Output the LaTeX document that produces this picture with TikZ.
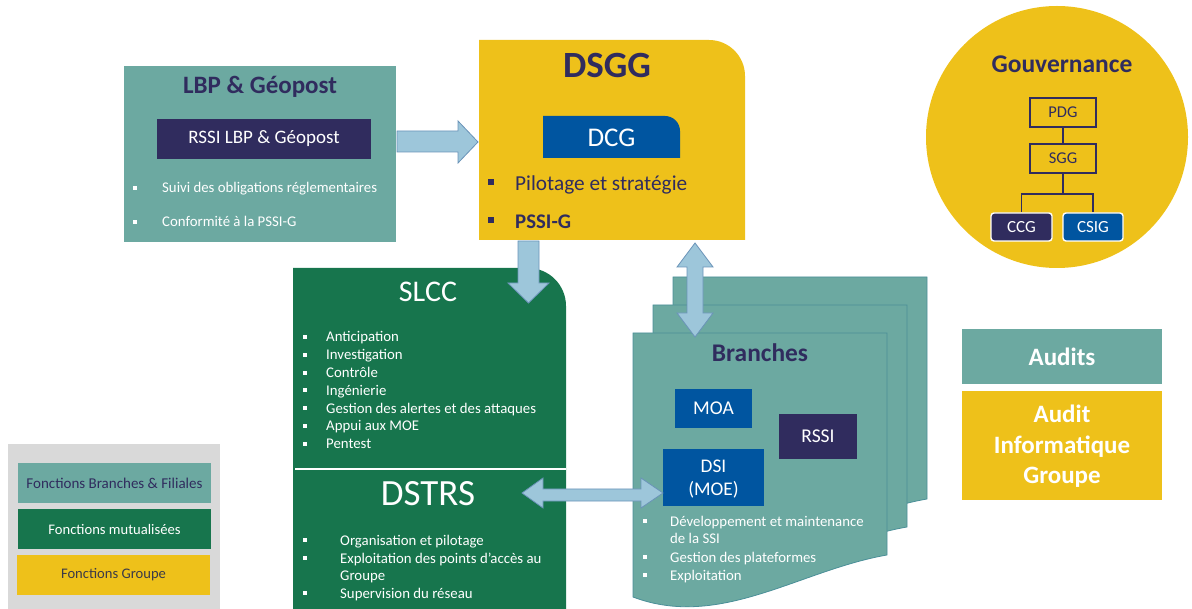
\documentclass[tikz,border=0pt]{standalone}
\usepackage{fontspec}
\setmainfont{Carlito}
\usetikzlibrary{calc}
\definecolor{teal1}{HTML}{6CA9A1}
\definecolor{navy}{HTML}{302C5E}
\definecolor{blue1}{HTML}{0055A0}
\definecolor{green1}{HTML}{17754D}
\definecolor{yel}{HTML}{EEC11A}
\definecolor{arrowfill}{HTML}{9DC6DA}
\definecolor{arrowline}{HTML}{6A93B8}
\definecolor{legendgray}{HTML}{D9D9D9}
\definecolor{pageline}{HTML}{4A8F98}
\definecolor{darktext}{HTML}{3B3A48}
\newcommand\fs[2]{\fontsize{#1}{#2}\selectfont}
\tikzset{
  bc/.style={inner sep=0pt, anchor=base},
  bl/.style={inner sep=0pt, anchor=base west},
  small/.style={font=\fs{14.8}{17}},
  blk/.style={draw=arrowline, fill=arrowfill, line width=0.8pt, line join=miter},
  pagebox/.style={fill=teal1, draw=pageline, line width=0.8pt},
  orgbox/.style={draw=navy, line width=1.4pt, fill=yel, minimum width=66pt, minimum height=29pt, text=navy, font=\fs{16.5}{19}},
  orgdark/.style={draw=white, line width=1.4pt, rounded corners=3pt, minimum height=28pt, text=white, font=\fs{17}{19}},
  orgline/.style={draw=navy, line width=1.4pt},
}
\begin{document}
\begin{tikzpicture}[x=1pt,y=-1pt, every node/.style={inner sep=0pt}]
\useasboundingbox (0,0) rectangle (1192,609);

% ---------- LBP & Geopost ----------
\node[fill=teal1, minimum width=272pt, minimum height=176pt] (lbp) at (260,154) {};
\node[bc, text=navy, font=\fs{25}{30}\bfseries] (lbpT) at (260,94) {LBP \& Géopost};
\node[fill=navy, minimum width=214pt, minimum height=40pt, text=white, font=\fs{19}{22}] (rssiL) at (264,139) {RSSI LBP \& Géopost};
\fill[white] (133,186) rectangle ++(4,4);
\node[bl, text=white, small] (lbpA) at (162,193) {Suivi des obligations réglementaires};
\fill[white] (133,220) rectangle ++(4,4);
\node[bl, text=white, small] (lbpB) at (162,227) {Conformité à la PSSI-G};

% ---------- DSGG ----------
\fill[yel] (479,240) -- (479,40) [rounded corners=36pt] -- (745,40) [sharp corners] -- (745,240) -- cycle;
\node[bc, text=navy, font=\fs{37}{40}\bfseries] (dsggT) at (607,78) {DSGG};
\fill[blue1] (543,158) -- (543,116) [rounded corners=15pt] -- (680,116) [sharp corners] -- (680,158) -- cycle;
\node[bc, text=white, font=\fs{27}{30}] (dcg) at (611.5,147) {DCG};
\fill[navy] (488,179) rectangle ++(6,6);
\node[bl, text=navy, font=\fs{21.3}{24}] (dsggA) at (515,191) {Pilotage et stratégie};
\fill[navy] (488,217) rectangle ++(6,6);
\node[bl, text=navy, font=\fs{20.8}{24}\bfseries] (dsggB) at (515,229) {PSSI-G};

% ---------- Gouvernance ----------
\node[circle, fill=yel, minimum size=262pt] (gov) at (1057,137) {};
\node[bc, text=navy, font=\fs{25.5}{28}\bfseries] (govT) at (1062,73) {Gouvernance};
\node[orgbox] (pdg) at (1063,112.5) {PDG};
\node[orgbox] (sgg) at (1063,158.5) {SGG};
\node[orgdark, fill=navy, minimum width=61pt] (ccg) at (1021.5,227) {CCG};
\node[orgdark, fill=blue1, minimum width=60pt] (csig) at (1093,227) {CSIG};
\coordinate (fork) at (1063,194);
\draw[orgline] (pdg.south) -- (sgg.north);
\draw[orgline] (sgg.south) -- (fork);
\draw[orgline] (fork) -| (ccg.north);
\draw[orgline] (fork) -| (csig.north);

% ---------- SLCC / DSTRS ----------
\fill[green1] (293,609) -- (293,268) [rounded corners=38pt] -- (566,268) [sharp corners] -- (566,609) -- cycle;
\node[bc, text=white, font=\fs{30}{32}] (slccT) at (428,302) {SLCC};
\foreach \t [count=\i] in {Anticipation, Investigation, Contrôle, Ingénierie, Gestion des alertes et des attaques, Appui aux MOE, Pentest}{
  \pgfmathsetmacro\yy{342+17.8*(\i-1)}
  \fill[white] (303,\yy-7) rectangle ++(4,4);
  \node[bl, text=white, small] (slcc\i) at (326,\yy) {\t};
}
\draw[white, line width=2pt] (295,469) -- (566,469);
\node[bc, text=white, font=\fs{37}{40}] (dstrsT) at (428,505) {DSTRS};
\fill[white] (303,538) rectangle ++(4,4);
\node[bl, text=white, small] (dstrsA) at (340,545) {Organisation et pilotage};
\fill[white] (303,556) rectangle ++(4,4);
\node[bl, text=white, small] (dstrsB) at (340,563) {Exploitation des points d’accès au};
\node[bl, text=white, small] (dstrsC) at (340,580) {Groupe};
\fill[white] (303,591) rectangle ++(4,4);
\node[bl, text=white, small] (dstrsD) at (340,598) {Supervision du réseau};

% ---------- Branches (stacked pages) ----------
\path[pagebox] (673,541) -- (673,277) -- (927,277) -- (927,499) .. controls (840,514) and (760,574) .. (673,541) -- cycle;
\path[pagebox] (653,569) -- (653,305) -- (907,305) -- (907,527) .. controls (820,542) and (740,602) .. (653,569) -- cycle;
\path[pagebox] (633,597) -- (633,333) -- (887,333) -- (887,555) .. controls (800,570) and (720,630) .. (633,597) -- cycle;
\node[bc, text=navy, font=\fs{25.4}{28}\bfseries] (branchT) at (760,362) {Branches};
\node[fill=blue1, minimum width=77pt, minimum height=39pt, text=white, font=\fs{19.5}{22}] (moa) at (713.5,408.5) {MOA};
\node[fill=navy, minimum width=78pt, minimum height=45pt, text=white, font=\fs{19.5}{22}] (rssiB) at (818,436.5) {RSSI};
\node[fill=blue1, minimum width=101pt, minimum height=57pt] (dsi) at (713.5,477.5) {};
\node[bc, text=white, font=\fs{19.3}{22}] (dsiA) at (713.5,473) {DSI};
\node[bc, text=white, font=\fs{19.3}{22}] (dsiB) at (713.5,496) {(MOE)};
\fill[white] (643,519) rectangle ++(4,4);
\node[bl, text=white, small] (brA) at (670,526) {Développement et maintenance};
\node[bl, text=white, small] (brB) at (670,543) {de la SSI};
\fill[white] (643,555) rectangle ++(4,4);
\node[bl, text=white, small] (brC) at (670,562) {Gestion des plateformes};
\fill[white] (643,573) rectangle ++(4,4);
\node[bl, text=white, small] (brD) at (670,580) {Exploitation};

% ---------- Block arrows ----------
\draw[blk] (397,131) -- (458,131) -- (458,121) -- (478,142) -- (458,163) -- (458,152) -- (397,152) -- cycle;
\draw[blk] (518,241) -- (539,241) -- (539,283) -- (549,283) -- (528.5,303) -- (508,283) -- (518,283) -- cycle;
\draw[blk] (695,243) -- (713,267) -- (703,267) -- (703,313) -- (713,313) -- (695,337) -- (677,313) -- (687,313) -- (687,267) -- (677,267) -- cycle;
\draw[blk] (522,493) -- (543,478) -- (543,489) -- (641,489) -- (641,478) -- (663,493) -- (641,508) -- (641,501) -- (543,501) -- (543,508) -- cycle;

% ---------- Audits ----------
\node[fill=teal1, minimum width=200pt, minimum height=55pt] (audits) at (1062,356.5) {};
\node[bc, text=white, font=\fs{25}{30}\bfseries] (auditsT) at (1062,366) {Audits};
\node[fill=yel, minimum width=200pt, minimum height=109pt] (aigBox) at (1062,445.5) {};
\node[bc, text=white, font=\fs{25}{30}\bfseries] (aigA) at (1062,423) {Audit};
\node[bc, text=white, font=\fs{25}{30}\bfseries] (aigB) at (1062,454) {Informatique};
\node[bc, text=white, font=\fs{25}{30}\bfseries] (aigC) at (1062,484) {Groupe};

% ---------- Legend ----------
\fill[legendgray] (8,444) rectangle (220,609);
\node[fill=teal1, minimum width=193pt, minimum height=40pt, text=navy, font=\fs{15}{17}] (legA) at (114.5,483) {Fonctions Branches \& Filiales};
\node[fill=green1, minimum width=193pt, minimum height=40pt, text=white, font=\fs{14.6}{17}] (legB) at (114.5,529) {Fonctions mutualisées};
\node[fill=yel, minimum width=193pt, minimum height=40pt, text=darktext, font=\fs{14.6}{17}] (legC) at (113.5,575) {Fonctions Groupe};
\end{tikzpicture}
\end{document}
